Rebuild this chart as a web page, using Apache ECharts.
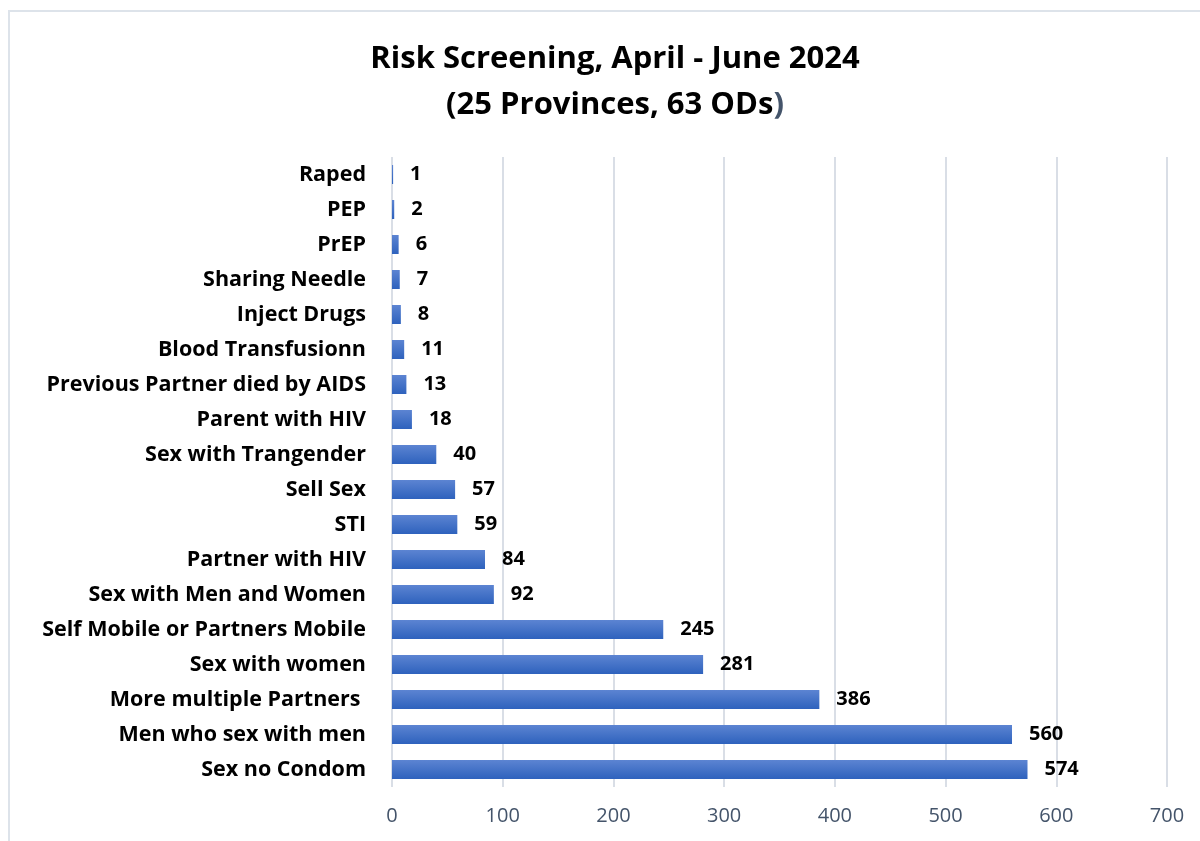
<!DOCTYPE html>
<html>
<head>
<meta charset="utf-8">
<title>Risk Screening, April - June 2024</title>
<script src="https://cdn.jsdelivr.net/npm/echarts@6/dist/echarts.min.js"></script>
<style>
  html, body { margin: 0; padding: 0; background: #fff; }
  #chart { width: 1200px; height: 841px; }
</style>
</head>
<body>
<div id="chart"></div>
<script>
// categories listed bottom to top (as the category axis draws them)
const categories = [
  'Sex no Condom',
  'Men who sex with men',
  'More multiple Partners ',
  'Sex with women',
  'Self Mobile or Partners Mobile',
  'Sex with Men and Women',
  'Partner with HIV',
  'STI',
  'Sell Sex',
  'Sex with Trangender',
  'Parent with HIV',
  'Previous Partner died by AIDS',
  'Blood Transfusionn',
  'Inject Drugs',
  'Sharing Needle',
  'PrEP',
  'PEP',
  'Raped'
]
const counts = [574, 560, 386, 281, 245, 92, 84, 59, 57, 40, 18, 13, 11, 8, 7, 6, 2, 1]
const xTicks = [0, 100, 200, 300, 400, 500, 600, 700]

const font = 'Open Sans, Noto Sans, sans-serif'
const chart = echarts.init(document.getElementById('chart'))

chart.setOption({
  animation: false,
  graphic: [
    {
      // light outer frame of the chart area
      type: 'rect',
      shape: { x: 9, y: 11, width: 1400, height: 1000 },
      style: { fill: 'none', stroke: '#dde3ea', lineWidth: 2 },
      silent: true
    }
  ],
  title: {
    left: 610,
    textAlign: 'center',
    top: 31,
    text: '{t|Risk Screening, April - June 2024}\n{t|(25 Provinces, 63 ODs}{p|)}',
    textStyle: {
      rich: {
        t: { fontFamily: font, fontWeight: 'bold', fontSize: 31, color: '#000', lineHeight: 46 },
        p: { fontFamily: font, fontWeight: 'bold', fontSize: 31, color: '#44546a', lineHeight: 46 }
      }
    }
  },
  grid: {
    left: 392,
    right: 33,
    top: 157,
    bottom: 54,
    containLabel: false
  },
  xAxis: {
    type: 'value',
    min: xTicks[0],
    max: xTicks[xTicks.length - 1],
    interval: 100,
    axisLine: { show: false },
    axisTick: { show: false },
    splitLine: { lineStyle: { color: '#d9dee6', width: 2 } },
    axisLabel: {
      color: '#44546a',
      fontFamily: font,
      fontSize: 20,
      margin: 19
    }
  },
  yAxis: {
    type: 'category',
    data: categories,
    axisLine: { show: false },
    axisTick: { show: false },
    axisLabel: {
      color: '#000',
      fontFamily: font,
      fontWeight: 'bold',
      fontSize: 21.5,
      margin: 26
    }
  },
  series: [
    {
      type: 'bar',
      data: counts,
      barWidth: 19,
      itemStyle: {
        color: new echarts.graphic.LinearGradient(0, 0, 0, 1, [
          { offset: 0, color: '#5c84d2' },
          { offset: 1, color: '#2e62bd' }
        ])
      },
      label: {
        show: true,
        position: 'right',
        distance: 17,
        color: '#000',
        fontFamily: font,
        fontWeight: 'bold',
        fontSize: 20
      }
    }
  ]
})
</script>
</body>
</html>
